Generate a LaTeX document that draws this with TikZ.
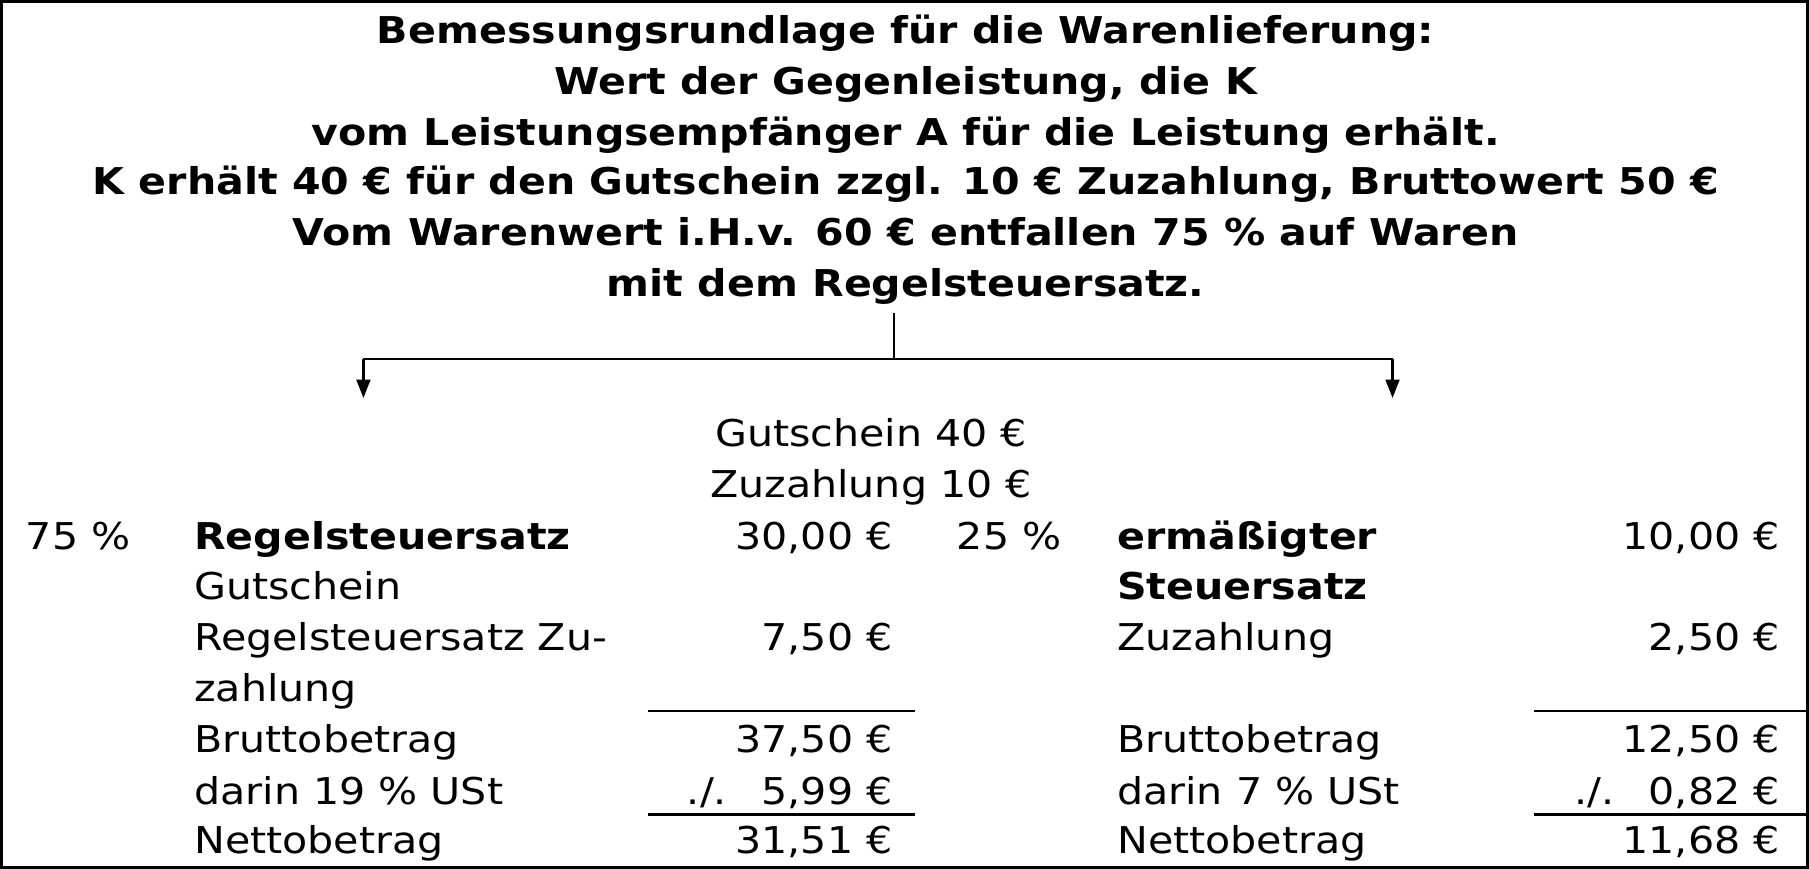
\documentclass[tikz,border=0pt]{standalone}
\usepackage{fontspec}
\setmainfont{DejaVu Sans}[FakeStretch=1.115]
\usetikzlibrary{arrows.meta}
\begin{document}
\begin{tikzpicture}[x=0.5pt,y=-0.5pt,
  ttl/.style={font=\fontsize{16}{22}\selectfont\bfseries, inner sep=0, anchor=base},
  txt/.style={font=\fontsize{16}{22}\selectfont, inner sep=0, anchor=base west},
  btxt/.style={txt, font=\fontsize{16}{22}\selectfont\bfseries},
  amt/.style={font=\fontsize{16}{22}\selectfont, inner sep=0, anchor=base east},
  ctr/.style={font=\fontsize{16}{22}\selectfont, inner sep=0, anchor=base},
  rule/.style={line width=1pt},
  conn/.style={line width=1pt},
  arr/.style={conn,-{Triangle[length=8pt,width=6pt]}}]
\useasboundingbox (0,0) rectangle (1568,753);
\draw[line width=1.4pt] (1.4,1.4) rectangle (1566.6,751.6);
% title
\node[ttl] (t1) at (785,38) {Bemessungsrundlage für die Warenlieferung:};
\node[ttl] (t2) at (785,82) {Wert der Gegenleistung, die K};
\node[ttl] (t3) at (785,126) {vom Leistungsempfänger A für die Leistung erhält.};
\node[ttl] (t4) at (785,169) {K erhält 40 € für den Gutschein zzgl. 10 € Zuzahlung, Bruttowert 50 €};
\node[ttl] (t5) at (785,213) {Vom Warenwert i.H.v. 60 € entfallen 75 \% auf Waren};
\node[ttl] (t6) at (785,257) {mit dem Regelsteuersatz.};
% connectors
\coordinate (stem) at (775,271);
\coordinate (jn) at (775,311);
\coordinate (la) at (315,311);
\coordinate (ra) at (1207,311);
\coordinate (lt) at (315,345);
\coordinate (rt) at (1207,345);
\draw[conn] (stem) -- (jn);
\draw[conn] (la) -- (ra);
\draw[arr] (la) -- (lt);
\draw[arr] (ra) -- (rt);
% middle header
\node[ctr] (g40) at (755,387) {Gutschein 40 €};
\node[ctr] (z10) at (755,431) {Zuzahlung 10 €};
% left column
\node[txt] (p75) at (22,476) {75 \%};
\node[btxt] (rs) at (168,476) {Regelsteuersatz};
\node[amt] (a30) at (774,476) {30,00 €};
\node[txt] (gs) at (168,520) {Gutschein};
\node[txt] (rz) at (168,564) {Regelsteuersatz Zu-};
\node[amt] (a75) at (774,564) {7,50 €};
\node[txt] (za) at (168,608) {zahlung};
\node[txt] (bl) at (168,652) {Bruttobetrag};
\node[amt] (ab) at (774,652) {37,50 €};
\node[txt] (dl) at (168,697) {darin 19 \% USt};
\node[amt] (ad) at (774,697) {./.\hspace{15pt}5,99 €};
\node[txt] (nl) at (168,740) {Nettobetrag};
\node[amt] (an) at (774,740) {31,51 €};
\coordinate (l1a) at (562,616); \coordinate (l1b) at (793,616);
\coordinate (l2a) at (562,706); \coordinate (l2b) at (793,706);
\draw[rule] (l1a) -- (l1b);
\draw[rule] (l2a) -- (l2b);
% right column
\node[txt] (p25) at (829,476) {25 \%};
\node[btxt] (es) at (968,476) {ermäßigter};
\node[amt] (a10) at (1543,476) {10,00 €};
\node[btxt] (st) at (968,520) {Steuersatz};
\node[txt] (zr) at (968,564) {Zuzahlung};
\node[amt] (a25) at (1543,564) {2,50 €};
\node[txt] (br) at (968,652) {Bruttobetrag};
\node[amt] (abr) at (1543,652) {12,50 €};
\node[txt] (dr) at (968,697) {darin 7 \% USt};
\node[amt] (adr) at (1543,697) {./.\hspace{15pt}0,82 €};
\node[txt] (nr) at (968,740) {Nettobetrag};
\node[amt] (anr) at (1543,740) {11,68 €};
\coordinate (r1a) at (1330,616); \coordinate (r1b) at (1566,616);
\coordinate (r2a) at (1330,706); \coordinate (r2b) at (1566,706);
\draw[rule] (r1a) -- (r1b);
\draw[rule] (r2a) -- (r2b);
\end{tikzpicture}
\end{document}
